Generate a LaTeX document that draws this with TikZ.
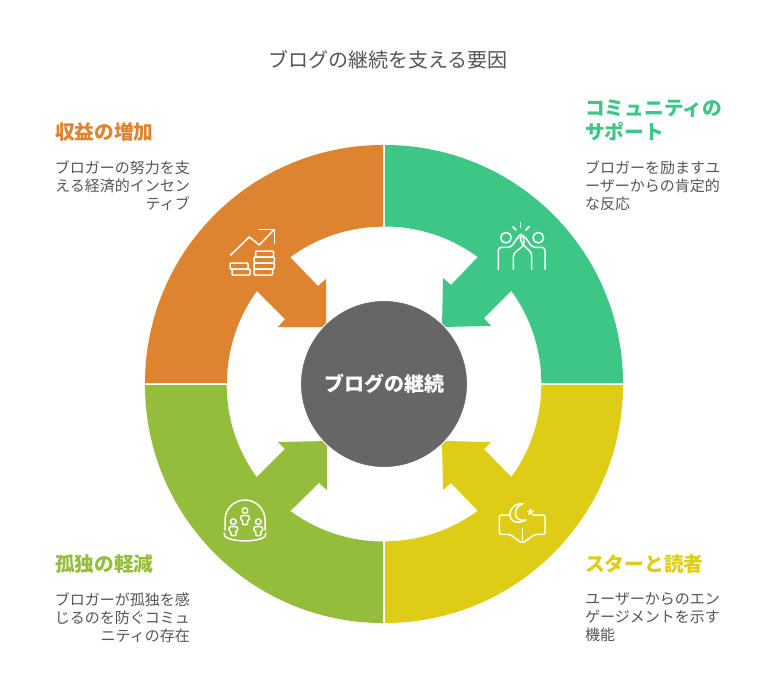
\documentclass[tikz,border=0pt]{standalone}
\usepackage{fontspec}
\setmainfont{Noto Sans CJK JP}
\definecolor{orangeseg}{HTML}{DE832F}
\definecolor{greenseg}{HTML}{3EC686}
\definecolor{yellowseg}{HTML}{DFCC14}
\definecolor{limeseg}{HTML}{93BD3A}
\definecolor{hubgrey}{HTML}{666666}
\definecolor{bodygrey}{HTML}{555555}
\tikzset{
	headtext/.style={inner sep=0pt, anchor=base west, align=left, font=\fontsize{19.7}{24}\selectfont\bfseries},
	bodyleft/.style={inner sep=0pt, anchor=north west, align=left, text=bodygrey, font=\fontsize{15}{18}\selectfont},
	bodyright/.style={inner sep=0pt, anchor=north east, align=right, text=bodygrey, font=\fontsize{15}{18}\selectfont},
	iconline/.style={draw=white, line width=1.5pt, line join=round, line cap=round},
}
\begin{document}
\begin{tikzpicture}[x=1pt, y=-1pt]
	\useasboundingbox (0,0) rectangle (774,696);

	\fill[orangeseg] (145,383) arc[start angle=180, end angle=90, radius=238pt] -- (383,226.7)
		arc[start angle=90, end angle=126.4, radius=156.3pt] -- (318,286) -- (326,279) -- (326,327) -- (278,327) -- (285,319) -- (257,291)
		arc[start angle=143.9, end angle=180, radius=156.3pt] -- cycle;
	\fill[greenseg] (385,145) arc[start angle=90, end angle=0, radius=238pt] -- (541.3,383)
		arc[start angle=0, end angle=36.1, radius=156.3pt] -- (484,318) -- (491,326) -- (442,327) -- (443,278) -- (451,285) -- (477.7,257)
		arc[start angle=53.6, end angle=90, radius=156.3pt] -- cycle;
	\fill[yellowseg] (623,385) arc[start angle=0, end angle=-90, radius=238pt] -- (385,541.3)
		arc[start angle=-90, end angle=-53.6, radius=156.3pt] -- (451,483) -- (443,490) -- (442,441) -- (491,442) -- (484,449) -- (511.3,477)
		arc[start angle=-36.1, end angle=0, radius=156.3pt] -- cycle;
	\fill[limeseg] (383,623) arc[start angle=-90, end angle=-180, radius=238pt] -- (226.7,385)
		arc[start angle=180, end angle=216.1, radius=156.3pt] -- (285,449) -- (278,442) -- (327,441) -- (327,490) -- (319,483) -- (290.4,511)
		arc[start angle=233.6, end angle=270, radius=156.3pt] -- cycle;

	\node[shape=circle, fill=hubgrey, draw=white, line width=1pt, minimum size=167pt, inner sep=0pt, text=white, font=\fontsize{20}{24}\selectfont\bfseries] (hub) at (384,384) {ブログの継続};

	\node[inner sep=0pt, text=bodygrey, font=\fontsize{20}{24}\selectfont] (title) at (388,60) {ブログの継続を支える要因};

	\node[headtext, text=orangeseg] (earnhead) at (55,139) {収益の増加};
	\node[bodyright] (earnbody) at (190,160.5) {ブロガーの努力を支\\える経済的インセン\\ティブ};
	\node[headtext, text=greenseg] (commhead) at (585,139) {コミュニティの\\サポート};
	\node[bodyleft] (commbody) at (585,160.5) {ブロガーを励ますユ\\ーザーからの肯定的\\な反応};
	\node[headtext, text=yellowseg] (starhead) at (585,571) {スターと読者};
	\node[bodyleft] (starbody) at (585,592.5) {ユーザーからのエン\\ゲージメントを示す\\機能};
	\node[headtext, text=limeseg] (lonehead) at (55,571) {孤独の軽減};
	\node[bodyright] (lonebody) at (190,592.5) {ブロガーが孤独を感\\じるのを防ぐコミュ\\ニティの存在};

	% coins and rising line
	\draw[iconline] (230.7,255) -- (249.3,237) -- (259.3,245) -- (274.3,229.3);
	\draw[iconline] (259.3,229.3) -- (274.3,229.3) -- (274.3,243.3);
	\draw[iconline, rounded corners=1pt] (255.7,251) rectangle (273.5,257);
	\draw[iconline, rounded corners=1pt] (254,257) rectangle (274.3,263);
	\draw[iconline, rounded corners=1pt] (254,263) rectangle (274.3,269);
	\draw[iconline, rounded corners=1pt] (254,269) rectangle (272.5,275);
	\draw[iconline, rounded corners=1pt] (230,263) rectangle (248,269);
	\draw[iconline, rounded corners=1pt] (232,269) rectangle (250,275);

	% two people, high five
	\draw[iconline] (506,237.7) circle[radius=5.3pt];
	\draw[iconline] (538.3,237.7) circle[radius=5.3pt];
	\draw[iconline] (520.5,222.7) -- (520.5,227.3);
	\draw[iconline] (512.8,226.7) -- (516,230);
	\draw[iconline] (529,226.7) -- (525.7,230);
	\draw[iconline, rounded corners=3pt] (498.3,269.3) -- (498.3,247.3) -- (511,247.3) -- (519,235.5) -- (521.7,234) -- (524,238.3) -- (524,245) -- (513.3,254) -- (513.3,269.3);
	\draw[iconline, rounded corners=3pt] (545,269.3) -- (545,247.3) -- (532.3,247.3) -- (524,235.5) -- (520.7,236) -- (520,240) -- (523.3,245) -- (531.7,252.7) -- (531.7,269.3);

	% three people under a dome
	\draw[iconline] (225,530) -- (225,520) arc[start angle=180, end angle=0, radius=20pt] -- (265,530);
	\draw[iconline] (224,533) .. controls (221,543.5) and (269,543.5) .. (266,533);
	\foreach \px/\py in {245/510.7, 233.3/521.7, 258.3/521.7} {
		\draw[iconline] (\px,\py) circle[radius=2.8pt];
		\draw[iconline, rounded corners=1pt] (\px-4,\py+5) -- (\px+4,\py+5) -- (\px+4.5,\py+9) -- (\px+2.5,\py+9.5) -- (\px+2.5,\py+14) -- (\px-2.5,\py+14) -- (\px-2.5,\py+9.5) -- (\px-4.5,\py+9) -- cycle;
	}

	% open book with moon and star
	\draw[iconline] (523,503.5) .. controls (505,503) and (505,530) .. (526,520) .. controls (514,523) and (511,508) .. (523,503.5);
	\node[inner sep=0pt, text=white, font=\fontsize{9}{9}\selectfont] (star) at (530.7,512.5) {★};
	\draw[iconline, rounded corners=2pt] (510,515) -- (499.3,515) -- (499.3,534.3) -- (510,534.3) -- (522.3,543.3) -- (535,534.3) -- (545,534.3) -- (545,515) -- (533.3,515);
	\draw[iconline] (522.3,528.3) -- (522.3,540);
\end{tikzpicture}
\end{document}
